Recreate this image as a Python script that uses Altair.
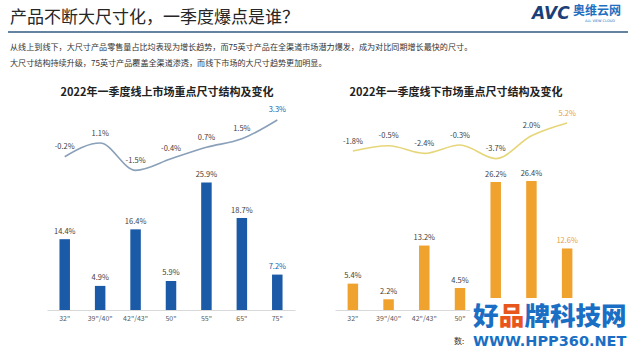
import altair as alt
import pandas as pd

FONT = "Noto Sans CJK SC"

# ---- data ----
sizes = ['32"', '39"/40"', '42"/43"', '50"', '55"', '65"', '75"']
online_share = [14.4, 4.9, 16.4, 5.9, 25.9, 18.7, 7.2]
online_change = [-0.2, 1.1, -1.5, -0.4, 0.7, 1.5, 3.3]
offline_share = [5.4, 2.2, 13.2, 4.5, 26.2, 26.4, 12.6]
offline_change = [-1.8, -0.5, -2.4, -0.3, -3.7, 2.0, 5.2]

main_title = "产品不断大尺寸化，一季度爆点是谁？"
desc_lines = [
    "从线上到线下，大尺寸产品零售量占比均表现为增长趋势，而75英寸产品在全渠道市场潜力爆发，成为对比同期增长最快的尺寸。",
    "大尺寸结构持续升级，75英寸产品覆盖全渠道渗透，而线下市场的大尺寸趋势更加明显。",
]
online_title = "2022年一季度线上市场重点尺寸结构及变化"
offline_title = "2022年一季度线下市场重点尺寸结构及变化"
logo_parts = ["AVC", "奥维云网", "ALL VIEW CLOUD"]
wm_chars = ["好", "品", "牌科技网"]
wm_url = "WWW.HPP360.NET"
wm_src = "数:"

dummy = pd.DataFrame({"a": [0]})


def make_panel(share, change, title, title_offset, bar_color, line_color, hl_color,
               width, bar_max, line_domain, extras):
    n = len(sizes)
    df = pd.DataFrame({
        "size": sizes,
        "share": share,
        "change": change,
        "share_label": [f"{v:.1f}%" for v in share],
        "change_label": [f"{v:.1f}%" for v in change],
        "hl": [i == n - 1 for i in range(n)],
    })
    base = alt.Chart(df)
    x = alt.X("size:N", sort=sizes, title=None,
              scale=alt.Scale(paddingInner=0.1, paddingOuter=0.05),
              axis=alt.Axis(labelAngle=0, ticks=False, domainColor="#d9d9d9",
                            domainWidth=1, labelColor="#595959", labelFontSize=7,
                            labelFont=FONT, labelPadding=4))
    ybar = alt.Y("share:Q", axis=None,
                 scale=alt.Scale(domain=[0, bar_max], nice=False, zero=False))
    yline = alt.Y("change:Q", axis=None,
                  scale=alt.Scale(domain=line_domain, nice=False, zero=False))
    lab_color = alt.condition("datum.hl", alt.value(hl_color), alt.value("#404040"))

    bars = base.mark_bar(size=10.5, color=bar_color).encode(x=x, y=ybar)
    bar_lbl = base.mark_text(dy=-7.5, fontSize=7.5, font=FONT).encode(
        x=x, y=ybar, text="share_label:N", color=lab_color)
    line = base.mark_line(interpolate="monotone", color=line_color,
                          strokeWidth=1.6).encode(x=x, y=yline)
    line_lbl = base.mark_text(dy=-9.5, fontSize=7.5, font=FONT).encode(
        x=x, y=yline, text="change_label:N", color=lab_color)

    return alt.layer(bars, bar_lbl, line, line_lbl, *extras).resolve_scale(
        y="independent"
    ).properties(
        width=width, height=210,
        title=alt.TitleParams(title, fontSize=11, fontWeight="bold", font=FONT,
                              color="#222222", offset=title_offset, dx=-4,
                              anchor="middle"),
    )


# decorations on the left panel (canvas extent, header rule, logo)
canvas = alt.Chart(dummy).mark_rect(opacity=0).encode(
    x=alt.value(-47), x2=alt.value(593), y=alt.value(-100), y2=alt.value(253))
header_rule = alt.Chart(dummy).mark_rule(color="#2f5a82", strokeWidth=1.6).encode(
    x=alt.value(-39), x2=alt.value(581), y=alt.value(-68))
logo_avc = alt.Chart(dummy).mark_text(
    text=logo_parts[0], font="DejaVu Sans", fontSize=17, fontWeight="bold",
    fontStyle="italic", color="#1c3f78", align="left", baseline="middle").encode(
    x=alt.value(485), y=alt.value(-86))
logo_cn = alt.Chart(dummy).mark_text(
    text=logo_parts[1], font=FONT, fontSize=12, fontWeight="bold",
    color="#1e6fbf", align="left", baseline="middle").encode(
    x=alt.value(526), y=alt.value(-89))
logo_en = alt.Chart(dummy).mark_text(
    text=logo_parts[2], font="DejaVu Sans", fontSize=3.5,
    color="#1e6fbf", align="left", baseline="middle").encode(
    x=alt.value(538), y=alt.value(-79))

# decorations on the right panel (watermark)
white_box = alt.Chart(dummy).mark_rect(color="white").encode(
    x=alt.value(135), x2=alt.value(305), y=alt.value(198), y2=alt.value(253))
wm1 = alt.Chart(dummy).mark_text(
    text=wm_chars[0], font=FONT, fontSize=25.5, fontWeight=900,
    color="#1a6fc4", align="left", baseline="middle").encode(
    x=alt.value(138), y=alt.value(217))
wm2 = alt.Chart(dummy).mark_text(
    text=wm_chars[1], font=FONT, fontSize=25.5, fontWeight=900,
    color="#e8561c", align="left", baseline="middle").encode(
    x=alt.value(163.7), y=alt.value(217))
wm3 = alt.Chart(dummy).mark_text(
    text=wm_chars[2], font=FONT, fontSize=25.5, fontWeight=900,
    color="#1a6fc4", align="left", baseline="middle").encode(
    x=alt.value(189.4), y=alt.value(217))
wm_u = alt.Chart(dummy).mark_text(
    text=wm_url, font="DejaVu Sans", fontSize=14.5, fontWeight="bold",
    color="#1a6fc4", align="left", baseline="middle").encode(
    x=alt.value(138), y=alt.value(242))
wm_s = alt.Chart(dummy).mark_text(
    text=wm_src, font=FONT, fontSize=8, color="#333333",
    align="left", baseline="middle").encode(
    x=alt.value(119), y=alt.value(242))

left = make_panel(online_share, online_change, online_title, -98,
                  "#1b5aa6", "#8aa0b8", "#2362a8",
                  248, 42.7, [-14.8, 5.2],
                  [canvas, header_rule, logo_avc, logo_cn, logo_en])
right = make_panel(offline_share, offline_change, offline_title, 2,
                   "#f0a22e", "#e6d67a", "#e8a040",
                   250, 43.0, [-41.55, 10.95],
                   [white_box, wm1, wm2, wm3, wm_u, wm_s])

chart = alt.hconcat(left, right, spacing=40, bounds="flush").properties(
    padding=0,
    background="white",
    title=alt.TitleParams(
        main_title, subtitle=desc_lines, anchor="start", frame="group",
        dx=-37, offset=-69, fontSize=17, fontWeight="normal", color="#262626",
        font=FONT, subtitleFont=FONT, subtitleFontSize=8.1,
        subtitleColor="#333333", subtitleLineHeight=16, subtitlePadding=17),
).configure_view(stroke=None)

chart.save("out.html", embed_options={"renderer": "svg", "actions": False})
